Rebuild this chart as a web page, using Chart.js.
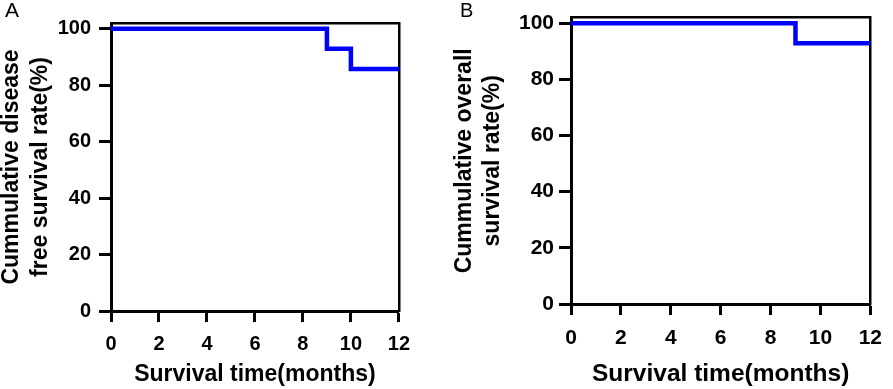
<!DOCTYPE html>
<html>
<head>
<meta charset="utf-8">
<script src="https://cdn.jsdelivr.net/npm/chart.js@4.4.1/dist/chart.umd.min.js"></script>
<style>
  html, body { margin: 0; padding: 0; background: #fff; }
  #wrap { position: relative; width: 893px; height: 389px; overflow: hidden; font-family: Arial, "Liberation Sans", sans-serif; }
  .panel { position: absolute; top: 0; }
  .tag { position: absolute; color: #000; }
</style>
</head>
<body>
<div id="wrap">
  <canvas id="chartA" class="panel" style="left:0" width="420" height="389"></canvas>
  <canvas id="chartB" class="panel" style="left:450px" width="443" height="389"></canvas>
  <div class="tag" style="left:5px;top:0;font-size:21px;line-height:20px">A</div>
  <div class="tag" style="left:460px;top:1px;font-size:20px;line-height:19px">B</div>
</div>
<script>
// ─── Data ──────────────────────────────────────────────
const monthTicks = [0, 2, 4, 6, 8, 10, 12];
const rateTicks = [0, 20, 40, 60, 80, 100];

// A : disease free survival (Kaplan-Meier)
const dfsMonths = [0, 9, 10, 12];
const dfsRate = [100, 92.86, 85.71, 85.71];

// B : overall survival
const osMonths = [0, 9, 12];
const osRate = [100, 92.86, 92.86];

const FONT = 'Arial, "Liberation Sans", sans-serif';

// ─── Chart builder ─────────────────────────────────────
function makeKM(id, months, rates, g) {
    const frame = { color: '#000', width: 2.5 };
    return new Chart(document.getElementById(id), {
        type: 'line',
        data: {
            datasets: [{
                data: months.map((m, i) => ({ x: m, y: rates[i] })),
                xAxisID: 'x',
                yAxisID: 'y',
                stepped: 'before',
                borderColor: '#0000ff',
                borderWidth: 4.5,
                borderCapStyle: 'butt',
                borderJoinStyle: 'miter',
                pointRadius: 0,
                fill: false,
            }]
        },
        options: {
            responsive: false,
            animation: false,
            events: [],
            layout: { padding: { top: g.top, right: g.right, left: 0, bottom: 0 } },
            plugins: { legend: { display: false }, tooltip: { enabled: false } },
            scales: {
                x: {
                    type: 'linear', position: 'bottom', min: 0, max: 12,
                    afterBuildTicks: s => { s.ticks = monthTicks.map(v => ({ value: v })); },
                    afterFit: s => { s.height = g.xAxisH; },
                    ticks: { color: '#000', padding: g.xTickPad, maxRotation: 0,
                             font: { family: FONT, size: g.tickSize, weight: 'bold' } },
                    grid: { drawOnChartArea: false, tickLength: 11, tickWidth: 3, tickColor: '#000' },
                    border: { color: '#000', width: 3 },
                    title: {
                        display: true, text: 'Survival time(months)', color: '#000',
                        font: { family: FONT, size: g.xTitleSize, weight: 'bold', lineHeight: 1.2 },
                        padding: { top: 0, bottom: g.xTitlePad }
                    }
                },
                y: {
                    type: 'linear', position: 'left', min: 0, max: 102,
                    afterBuildTicks: s => { s.ticks = rateTicks.map(v => ({ value: v })); },
                    afterFit: s => { s.width = g.yAxisW; },
                    ticks: { color: '#000', padding: g.yTickPad,
                             font: { family: FONT, size: g.tickSize, weight: 'bold' } },
                    grid: { drawOnChartArea: false, tickLength: 12, tickWidth: 3, tickColor: '#000' },
                    border: { color: '#000', width: 3 },
                    title: {
                        display: true, text: g.yTitle, color: '#000',
                        font: { family: FONT, size: 23, weight: 'bold', lineHeight: g.yTitleLH },
                        padding: { top: g.yTitlePad, bottom: 0 }
                    }
                },
                // top and right edges of the box
                xTop: {
                    type: 'linear', position: 'top', min: 0, max: 1,
                    ticks: { display: false }, grid: { display: false }, border: frame,
                    afterFit: s => { s.height = 0; }
                },
                yRight: {
                    type: 'linear', position: 'right', min: 0, max: 1,
                    ticks: { display: false }, grid: { display: false }, border: frame,
                    afterFit: s => { s.width = 0; }
                }
            }
        }
    });
}

makeKM('chartA', dfsMonths, dfsRate, {
    top: 23, right: 20, xAxisH: 78, yAxisW: 111,
    tickSize: 20, xTickPad: 10, yTickPad: 8, xTitleSize: 23, xTitlePad: 1,
    yTitle: ['Cummulative disease', 'free survival rate(%)'], yTitleLH: 1.27, yTitlePad: -3
});

makeKM('chartB', osMonths, osRate, {
    top: 10, right: 13, xAxisH: 85, yAxisW: 121,
    tickSize: 21, xTickPad: 11, yTickPad: 5, xTitleSize: 24.5, xTitlePad: 0,
    yTitle: ['Cummulative overall', 'survival rate(%)'], yTitleLH: 1.22, yTitlePad: 1
});
</script>
</body>
</html>
